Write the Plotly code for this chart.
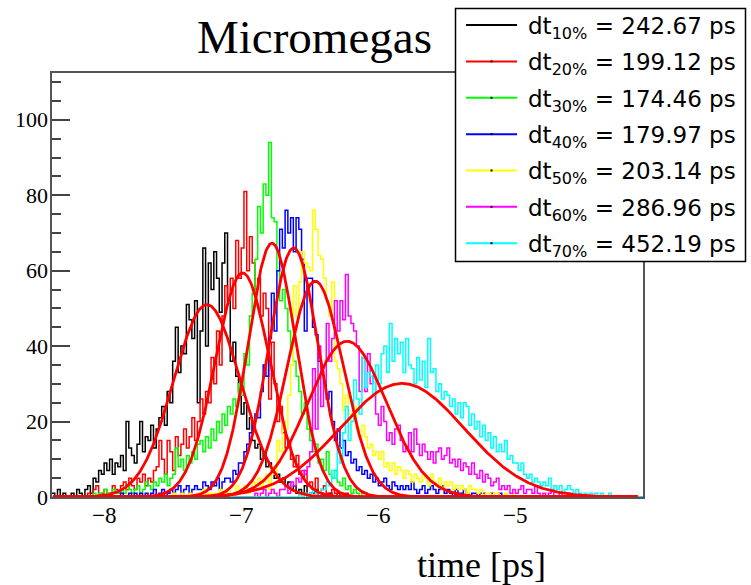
import numpy as np
import plotly.graph_objects as go

# ---------------- data ----------------
BIN_WIDTH = 0.02
X_FIRST_EDGE = -8.38
N_BINS = 216

series_names = ["10%", "20%", "30%", "40%", "50%", "60%", "70%"]
dt_values_ps = ["242.67", "199.12", "174.46", "179.97", "203.14", "286.96", "452.19"]
colors = ["#000000", "#ff0000", "#00ff00", "#0000ff", "#ffff00", "#ff00ff", "#00ffff"]

black_start = -8.38
black_counts = [1, 0, 2, 0, 1, 0, 0, 1, 0, 2, 1, 0, 2, 3, 1, 5, 4, 7, 6, 9,
                7, 10, 6, 9, 8, 11, 7, 20, 13, 11, 9, 14, 20, 12, 16, 15, 19, 13, 18, 21,
                24, 19, 28, 25, 36, 45, 33, 40, 38, 51, 47, 42, 52, 25, 44, 66, 40, 62, 55, 65,
                58, 49, 62, 70, 52, 36, 41, 32, 28, 22, 25, 18, 21, 15, 13, 14, 10, 12, 8, 9,
                7, 5, 6, 4, 5, 3, 4, 2, 3, 1, 2, 1, 3, 0, 1, 1, 2, 0, 1, 0,
                0, 1, 0, 0, 1]

red_start = -8.12
red_counts = [1, 0, 2, 3, 0, 1, 2, 0, 1, 3, 2, 1, 3, 4, 2, 5, 3, 2, 5, 4,
              6, 3, 5, 4, 7, 8, 15, 10, 6, 15, 12, 7, 16, 11, 14, 18, 13, 16, 21, 15,
              20, 26, 22, 28, 25, 37, 30, 44, 35, 48, 56, 52, 58, 50, 68, 58, 66, 81, 60, 69,
              62, 55, 58, 48, 54, 50, 26, 41, 30, 20, 24, 17, 13, 15, 10, 8, 11, 6, 5, 7,
              3, 4, 2, 5, 1, 2, 3, 1, 0, 2, 1, 0, 1, 0, 1]

green_start = -8.08
green_counts = [1, 0, 1, 0, 2, 1, 0, 2, 1, 1, 2, 1, 3, 2, 1, 2, 3, 1, 2, 4,
                3, 2, 4, 3, 5, 4, 6, 3, 5, 6, 13, 8, 10, 7, 11, 9, 12, 10, 14, 15,
                12, 16, 13, 18, 15, 20, 17, 22, 19, 24, 22, 26, 24, 30, 27, 38, 35, 48, 54, 63,
                77, 70, 83, 80, 94, 74, 73, 60, 52, 55, 50, 44, 39, 36, 32, 28, 22, 25, 18, 15,
                12, 14, 9, 10, 7, 12, 6, 5, 7, 4, 3, 5, 2, 3, 1, 2, 1, 0, 1, 1]

blue_start = -7.90
blue_counts = [0, 1, 0, 0, 1, 0, 1, 0, 1, 0, 1, 0, 1, 2, 0, 1, 2, 0, 1, 2,
               1, 2, 3, 1, 2, 3, 1, 2, 3, 2, 2, 4, 3, 2, 4, 3, 5, 2, 4, 5,
               5, 4, 7, 6, 9, 9, 12, 14, 17, 20, 22, 21, 28, 35, 32, 42, 54, 44, 60, 71,
               66, 76, 70, 74, 65, 74, 71, 63, 44, 58, 58, 45, 43, 36, 34, 30, 26, 28, 20, 15,
               18, 13, 15, 11, 12, 9, 10, 7, 8, 6, 7, 5, 6, 4, 5, 3, 4, 5, 3, 2,
               4, 3, 2, 3, 2, 3, 2, 4, 2, 1, 2, 3, 1, 2, 3, 2, 1, 2, 3, 1,
               2, 1, 0, 2, 1, 1, 2, 1, 0, 1, 1, 0, 1, 1, 0, 0, 1, 0, 0, 1]

yellow_start = -7.50
yellow_counts = [1, 0, 0, 1, 0, 0, 1, 0, 0, 1, 0, 2, 0, 1, 0, 1, 0, 2, 1, 1,
                 2, 1, 0, 3, 1, 2, 3, 1, 2, 4, 3, 5, 2, 4, 6, 2, 8, 6, 15, 12,
                 20, 18, 27, 35, 56, 48, 57, 65, 62, 61, 60, 76, 71, 64, 63, 58, 52, 48, 57, 36,
                 34, 30, 23, 27, 22, 20, 24, 18, 16, 19, 16, 13, 14, 11, 12, 10, 12, 8, 9, 7,
                 9, 6, 8, 7, 5, 7, 6, 4, 6, 5, 4, 6, 5, 3, 6, 4, 3, 5, 2, 4,
                 3, 4, 2, 3, 2, 3, 2, 1, 3, 2, 2, 1, 2, 0, 1, 1, 0, 1, 1, 0,
                 0, 1, 0, 0, 1]

magenta_start = -6.90
magenta_counts = [1, 0, 1, 2, 0, 1, 2, 1, 0, 2, 2, 3, 1, 4, 3, 5, 4, 7, 6, 8,
                  12, 34, 18, 40, 24, 30, 46, 36, 42, 52, 44, 52, 47, 59, 48, 46, 44, 40, 28, 37,
                  28, 38, 30, 32, 22, 19, 24, 20, 15, 17, 14, 18, 19, 15, 12, 13, 17, 12, 18, 14,
                  11, 14, 12, 10, 12, 9, 12, 13, 10, 11, 13, 9, 10, 8, 10, 7, 9, 8, 6, 9,
                  6, 5, 7, 4, 6, 5, 3, 4, 5, 2, 3, 2, 3, 1, 2, 1, 2, 3, 1, 2,
                  2, 1, 3, 1, 0, 1, 0, 1, 2, 0, 0, 1, 0, 0, 1]

cyan_start = -6.60
cyan_counts = [0, 1, 0, 1, 0, 1, 2, 1, 0, 2, 2, 4, 3, 7, 5, 13, 9, 17, 24, 15,
               20, 31, 26, 22, 37, 29, 33, 32, 27, 35, 30, 38, 40, 33, 46, 36, 42, 38, 41, 33,
               42, 35, 34, 30, 37, 31, 36, 29, 42, 33, 34, 28, 30, 26, 28, 27, 24, 26, 22, 25,
               21, 25, 24, 19, 22, 18, 20, 16, 19, 15, 17, 13, 16, 12, 14, 12, 15, 10, 11, 9,
               9, 7, 9, 6, 5, 6, 4, 5, 4, 3, 4, 3, 5, 2, 3, 2, 3, 1, 2, 3,
               2, 1, 2, 1, 0, 1, 0, 1, 0, 1, 0, 1, 0, 0, 1]

hist_starts = [black_start, red_start, green_start, blue_start, yellow_start, magenta_start, cyan_start]
hist_counts = [black_counts, red_counts, green_counts, blue_counts, yellow_counts, magenta_counts, cyan_counts]

# Gaussian fit parameters (amplitude, mean, sigma)
fit_amp = [51.0, 59.4, 67.3, 66.0, 57.2, 41.3, 30.1]
fit_mean = [-7.25, -6.99, -6.776, -6.618, -6.46, -6.228, -5.827]
fit_sigma = [0.2427, 0.1991, 0.1745, 0.1800, 0.2031, 0.2870, 0.4522]
fit_range = [-8.37, -4.11]

x_ticks = [-8, -7, -6, -5]
x_tick_labels = ["\u22128", "\u22127", "\u22126", "\u22125"]
y_ticks = [0, 20, 40, 60, 80, 100]
y_tick_labels = ["0", "20", "40", "60", "80", "100"]

# ---------------- layout helpers (pixels) ----------------
W, H = 751, 585
L, R, T, B = 52, 643, 73, 497.5


def px(x):
    return (x - L) / (R - L)


def py(y):
    return (B - y) / (B - T)


edges = X_FIRST_EDGE + BIN_WIDTH * np.arange(N_BINS + 1)

fig = go.Figure()
for start, counts, col in zip(hist_starts, hist_counts, colors):
    h = np.zeros(N_BINS)
    i0 = int(round((start - X_FIRST_EDGE) / BIN_WIDTH))
    h[i0:i0 + len(counts)] = counts
    fig.add_trace(go.Scatter(x=edges, y=np.append(h, h[-1]), mode="lines",
                             line=dict(color=col, width=1.5, shape="hv"),
                             hoverinfo="skip", showlegend=False))

xf = np.linspace(fit_range[0], fit_range[1], 900)
for a, m, s in zip(fit_amp, fit_mean, fit_sigma):
    fig.add_trace(go.Scatter(x=xf, y=a * np.exp(-0.5 * ((xf - m) / s) ** 2), mode="lines",
                             line=dict(color="#ff0000", width=2.8),
                             hoverinfo="skip", showlegend=False))

serif = "Liberation Serif"
sans = "DejaVu Sans"

fig.update_layout(
    width=W, height=H,
    margin=dict(l=L, r=W - R, t=T, b=H - B, pad=0),
    paper_bgcolor="white", plot_bgcolor="white",
    showlegend=False,
    xaxis=dict(range=[-8.38, -4.07], tickvals=x_ticks, ticks="", showticklabels=False,
               showgrid=False, zeroline=False, showline=True, mirror=True,
               linecolor="#555", linewidth=2, layer="below traces"),
    yaxis=dict(range=[0, 112.4], tickvals=y_ticks, ticks="inside", ticklen=18, tickwidth=1.5,
               tickcolor="#444", showticklabels=False, showgrid=False, zeroline=False,
               showline=True, mirror=True, linecolor="#555", linewidth=2, layer="below traces",
               minor=dict(dtick=5, ticks="inside", ticklen=9, tickwidth=1.5, tickcolor="#444",
                          showgrid=False)),
)

shapes = []
annotations = []

# tick labels (positioned through the axes' own scales)
for v, t in zip(x_ticks, x_tick_labels):
    annotations.append(dict(text=t, x=v, xref="x", y=py(516), yref="paper",
                            xanchor="center", yanchor="middle", showarrow=False,
                            font=dict(family=serif, size=23, color="black")))
for v, t in zip(y_ticks, y_tick_labels):
    annotations.append(dict(text=t, x=px(50), xref="paper", y=v, yref="y",
                            xanchor="right", yanchor="middle", showarrow=False,
                            font=dict(family=serif, size=22, color="black")))

# title and axis title
annotations.append(dict(text="Micromegas", x=px(314), y=py(37), xref="paper", yref="paper",
                        xanchor="center", yanchor="middle", showarrow=False,
                        font=dict(family=serif, size=47, color="black")))
annotations.append(dict(text="time [ps]", x=px(481), y=py(566), xref="paper", yref="paper",
                        xanchor="center", yanchor="middle", showarrow=False,
                        font=dict(family=serif, size=36, color="black")))

# legend box
shapes.append(dict(type="rect", xref="paper", yref="paper", x0=px(455.5), x1=px(745.5),
                   y0=py(261.7), y1=py(8.3), fillcolor="white",
                   line=dict(color="black", width=1.5), layer="above"))
for i, (name, dt, col) in enumerate(zip(series_names, dt_values_ps, colors)):
    yl = 25 + i * 36.4
    shapes.append(dict(type="line", xref="paper", yref="paper", x0=px(466), x1=px(517),
                       y0=py(yl), y1=py(yl), line=dict(color=col, width=2), layer="above"))
    shapes.append(dict(type="rect", xref="paper", yref="paper", x0=px(490.5), x1=px(492.5),
                       y0=py(yl + 1), y1=py(yl - 1), fillcolor="black",
                       line=dict(width=0), layer="above"))
    annotations.append(dict(text=f"dt<sub>{name}</sub> = {dt} ps", x=px(526), y=py(yl + 3),
                            xref="paper", yref="paper", xanchor="left", yanchor="middle",
                            showarrow=False, font=dict(family=sans, size=23, color="black")))

fig.update_layout(shapes=shapes, annotations=annotations)
fig.write_html("out.html")
